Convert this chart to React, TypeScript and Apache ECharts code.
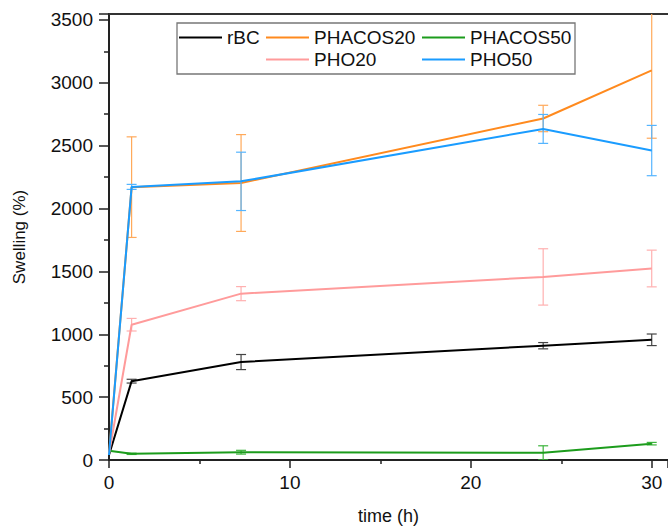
import React, { useEffect, useRef } from "react";
import * as echarts from "echarts";

const times = [0, 1.25, 7.3, 24, 30];

const seriesNames = ["rBC", "PHACOS20", "PHACOS50", "PHO20", "PHO50"];
const seriesColors = ["#000000", "#ff8a1e", "#1c9c1c", "#ff9b9b", "#1a9cff"];
const errColors = ["#444444", "#ffa95a", "#3cb43c", "#ffb0b0", "#55b5ff"];

const rBC = [40, 627, 779, 909, 956];
const rBCErr = [0, 15, 60, 25, 46];
const PHACOS20 = [50, 2170, 2203, 2716, 3099];
const PHACOS20Err = [0, 400, 385, 105, 540];
const PHACOS50 = [73, 49, 62, 57, 130];
const PHACOS50Err = [0, 5, 15, 56, 10];
const PHO20 = [50, 1076, 1323, 1456, 1523];
const PHO20Err = [0, 50, 56, 224, 146];
const PHO50 = [40, 2172, 2216, 2633, 2461];
const PHO50Err = [0, 20, 232, 115, 200];

const allValues = [rBC, PHACOS20, PHACOS50, PHO20, PHO50];
const allErrs = [rBCErr, PHACOS20Err, PHACOS50Err, PHO20Err, PHO50Err];

const xTicks = { min: 0, max: 30.9, interval: 10 };
const yTicks = { min: 0, max: 3547, interval: 500 };

const FONT = "Liberation Sans, Arial, sans-serif";

export default function App() {
  const ref = useRef<HTMLDivElement>(null);
  useEffect(() => {
    const chart = echarts.init(ref.current!, null, { renderer: "svg" });

    const lineSeries = seriesNames.map((name, i) => ({
      name,
      type: "line",
      data: times.map((t, j) => [t, allValues[i][j]]),
      showSymbol: false,
      symbol: "none",
      lineStyle: { color: seriesColors[i], width: 2 },
      itemStyle: { color: seriesColors[i] },
      z: 3 + i,
    }));

    const errSeries = seriesNames.map((name, i) => ({
      name: name + " error",
      type: "custom",
      clip: true,
      z: 2 + i,
      data: times
        .map((t, j) => [t, allValues[i][j] - allErrs[i][j], allValues[i][j] + allErrs[i][j], allErrs[i][j]])
        .filter((d) => d[3] > 0),
      encode: { x: 0, y: [1, 2] },
      renderItem: (params: any, api: any) => {
        const x = api.value(0);
        const lo = api.coord([x, api.value(1)]);
        const hi = api.coord([x, api.value(2)]);
        const w = 5;
        const style = { stroke: errColors[i], lineWidth: 1.2, fill: "none" };
        return {
          type: "group",
          children: [
            { type: "line", shape: { x1: lo[0], y1: lo[1], x2: hi[0], y2: hi[1] }, style },
            { type: "line", shape: { x1: lo[0] - w, y1: lo[1], x2: lo[0] + w, y2: lo[1] }, style },
            { type: "line", shape: { x1: hi[0] - w, y1: hi[1], x2: hi[0] + w, y2: hi[1] }, style },
          ],
        };
      },
    }));

    const legendCommon = {
      orient: "vertical",
      top: 28,
      padding: 0,
      itemGap: 3,
      itemWidth: 43,
      itemHeight: 2,
      icon: "rect",
      selectedMode: false,
      textStyle: { fontSize: 19, color: "#111", fontFamily: FONT },
    };

    const option: any = {
      animation: false,
      backgroundColor: "#ffffff",
      grid: { left: 109, top: 14, right: 0, bottom: 63, containLabel: false },
      legend: [
        { ...legendCommon, left: 179, data: ["rBC"] },
        { ...legendCommon, left: 266, data: ["PHACOS20", "PHO20"] },
        { ...legendCommon, left: 422, data: ["PHACOS50", "PHO50"] },
      ],
      graphic: [
        {
          type: "rect",
          shape: { x: 177, y: 23, width: 398, height: 51 },
          style: { fill: "none", stroke: "#777777", lineWidth: 1.3 },
          z: 10,
        },
      ],
      xAxis: [
        {
          type: "value",
          min: xTicks.min,
          max: xTicks.max,
          interval: xTicks.interval,
          name: "time (h)",
          nameLocation: "middle",
          nameGap: 47,
          nameTextStyle: { fontSize: 18, color: "#111", fontFamily: FONT },
          axisLine: { show: true, onZero: false, lineStyle: { color: "#222", width: 2 } },
          axisTick: { show: true, inside: false, length: 8, lineStyle: { color: "#222", width: 1.5 } },
          minorTick: { show: true, splitNumber: 2, length: 4, lineStyle: { color: "#222", width: 1.5 } },
          axisLabel: { fontSize: 19, color: "#111", fontFamily: FONT, margin: 13, showMaxLabel: false },
          splitLine: { show: false },
        },
        {
          type: "value",
          position: "top",
          min: xTicks.min,
          max: xTicks.max,
          interval: xTicks.interval,
          axisLine: { show: true, onZero: false, lineStyle: { color: "#333", width: 2 } },
          axisTick: { show: false },
          axisLabel: { show: false },
          splitLine: { show: false },
        },
      ],
      yAxis: {
        type: "value",
        min: yTicks.min,
        max: yTicks.max,
        interval: yTicks.interval,
        name: "Swelling (%)",
        nameLocation: "middle",
        nameGap: 81,
        nameTextStyle: { fontSize: 17, color: "#111", fontFamily: FONT },
        axisLine: { show: true, onZero: false, lineStyle: { color: "#222", width: 2 } },
        axisTick: { show: true, inside: false, length: 10, lineStyle: { color: "#222", width: 1.5 } },
        minorTick: { show: true, splitNumber: 2, length: 5, lineStyle: { color: "#222", width: 1.5 } },
        axisLabel: {
          fontSize: 19,
          color: "#111",
          fontFamily: FONT,
          margin: 16,
          showMaxLabel: false,
          formatter: (v: number) => String(v),
        },
        splitLine: { show: false },
      },
      series: [...errSeries, ...lineSeries],
    };

    chart.setOption(option);
    return () => chart.dispose();
  }, []);

  return (
    <div
      ref={ref}
      style={{ position: "fixed", left: 0, top: 0, width: 668, height: 530, background: "#fff" }}
    />
  );
}
